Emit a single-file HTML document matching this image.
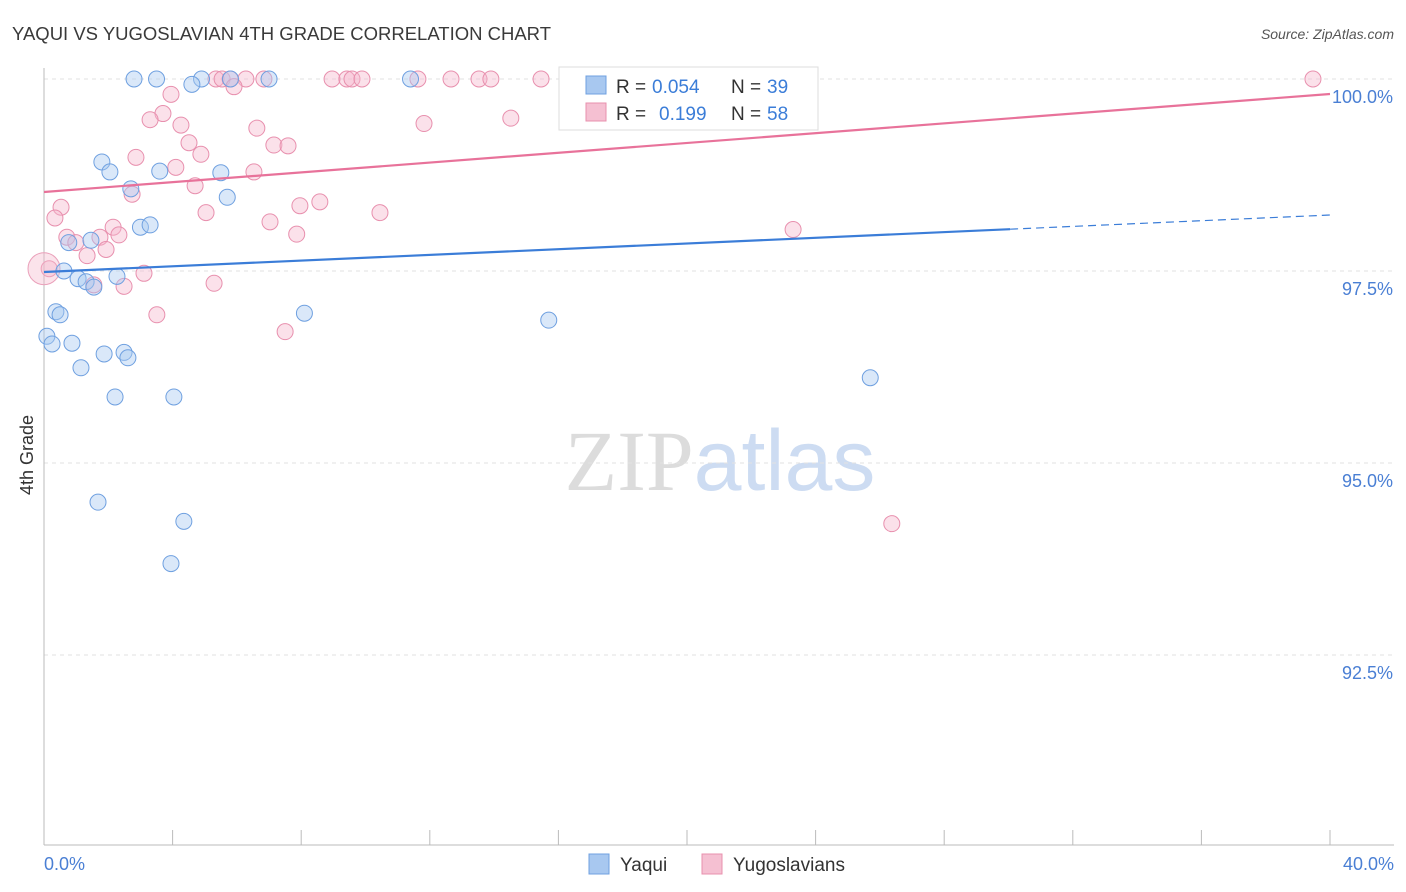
<!DOCTYPE html>
<html><head><meta charset="utf-8"><style>
body{margin:0;background:#fff;font-family:"Liberation Sans",sans-serif}
svg{display:block}
</style></head><body>
<svg id="chart" width="1406" height="892" xmlns="http://www.w3.org/2000/svg" font-family="Liberation Sans, sans-serif">
<text x="12" y="40" font-size="18.5" fill="#3a3a3a">YAQUI VS YUGOSLAVIAN 4TH GRADE CORRELATION CHART</text>
<text x="1394" y="39" font-size="14" fill="#555" text-anchor="end" font-style="italic">Source: ZipAtlas.com</text>
<text x="720" y="490" font-size="86" text-anchor="middle"><tspan fill="#dcdcdc" font-family="Liberation Serif, serif">ZIP</tspan><tspan fill="#cddcf2">atlas</tspan></text>
<text transform="translate(33,455) rotate(-90)" font-size="18" fill="#333" text-anchor="middle">4th Grade</text>
<g id="grid"></g><g id="marks"></g>
<g>
<rect x="559" y="67" width="259" height="63" fill="#fff" stroke="#ddd"/>
<rect x="586" y="76" width="20" height="18" fill="#a8c8f0" stroke="#6fa0e0"/>
<text x="616" y="93" font-size="19" fill="#333">R =</text>
<text x="652" y="93" font-size="19" fill="#3b7dd8">0.054</text>
<text x="731" y="93" font-size="19" fill="#333">N =</text>
<text x="767" y="93" font-size="19" fill="#3b7dd8">39</text>
<rect x="586" y="103" width="20" height="18" fill="#f5c0d2" stroke="#e890ae"/>
<text x="616" y="120" font-size="19" fill="#333">R =</text>
<text x="659" y="120" font-size="19" fill="#3b7dd8">0.199</text>
<text x="731" y="120" font-size="19" fill="#333">N =</text>
<text x="767" y="120" font-size="19" fill="#3b7dd8">58</text>
</g>
<g>
<rect x="589" y="854" width="20" height="20" fill="#a8c8f0" stroke="#6fa0e0"/>
<text x="620" y="871" font-size="19" fill="#333">Yaqui</text>
<rect x="702" y="854" width="20" height="20" fill="#f5c0d2" stroke="#e890ae"/>
<text x="733" y="871" font-size="19" fill="#333">Yugoslavians</text>
</g>
</svg>
<script>
const yTicks=[92.5,95.0,97.5,100.0];
const xTickLabels=["0.0%","40.0%"];
const blueX=[2.8,3.5,4.9,5.8,7.0,11.4,4.6,1.8,2.05,3.6,5.5,2.7,5.7,3.0,3.3,0.77,1.46,0.62,1.06,1.31,1.55,2.27,0.37,0.5,8.1,15.7,0.09,0.25,0.87,1.87,2.49,2.61,1.15,2.21,4.04,25.7,1.68,4.35,3.95];
const blueY=[100,100,100,100,100,100,99.93,98.92,98.79,98.8,98.78,98.57,98.46,98.07,98.1,97.87,97.9,97.5,97.4,97.36,97.29,97.43,96.97,96.93,96.95,96.86,96.65,96.55,96.56,96.42,96.44,96.37,96.24,95.86,95.86,96.11,94.49,94.24,93.69];
const pinkX=[5.35,5.54,5.79,6.28,6.84,8.96,9.42,9.58,9.89,11.63,12.66,13.53,13.9,15.46,20.09,20.59,39.47,5.91,3.95,3.7,3.3,4.26,14.52,11.82,6.62,4.51,7.15,7.59,4.88,2.86,4.1,6.53,2.74,4.7,0.53,0.34,5.04,7.96,8.58,10.45,7.03,2.15,2.33,0.71,1.74,7.86,23.3,0.99,1.93,1.34,0.16,3.11,2.49,5.29,1.55,3.51,7.5,26.37];
const pinkY=[100,100,100,100,100,100,100,100,100,100,100,100,100,100,100,100,100,99.9,99.8,99.55,99.47,99.4,99.49,99.42,99.36,99.17,99.14,99.13,99.02,98.98,98.85,98.79,98.5,98.61,98.33,98.19,98.26,98.35,98.4,98.26,98.14,98.07,97.97,97.94,97.94,97.98,98.04,97.87,97.78,97.7,97.53,97.47,97.3,97.34,97.32,96.93,96.71,94.21];
const blueLine=[97.487,98.229];const blueSolidEnd=30.05;
const pinkLine=[98.529,99.805];
const NS="http://www.w3.org/2000/svg";
const X=v=>44+v/40*1286, Y=v=>79+(100-v)/2.5*192;
function mk(t,a,p){const e=document.createElementNS(NS,t);for(const k in a)e.setAttribute(k,a[k]);p.appendChild(e);return e;}
const g=document.getElementById('grid'),m=document.getElementById('marks');
yTicks.forEach(t=>{const l=mk('line',{x1:44,x2:1394,y1:Y(t),y2:Y(t),stroke:'#e2e2e2','stroke-dasharray':'4,4'},g);


const tx=mk('text',{x:1393,y:Y(t)+24,'font-size':18,fill:'#4a7fd4','text-anchor':'end'},g);tx.textContent=t.toFixed(1)+'%';

});
mk('line',{x1:44,x2:44,y1:68,y2:845,stroke:'#bbb'},g);
mk('line',{x1:44,x2:1394,y1:845,y2:845,stroke:'#bbb'},g);
for(let i=0;i<=10;i++){const l=mk('line',{x1:X(i*4),x2:X(i*4),y1:830,y2:845,stroke:'#bbb'},g);

}
[[0,'start',44],[40,'end',1394]].forEach((d,i)=>{const t=mk('text',{x:d[2],y:870,'font-size':18,fill:'#4a7fd4','text-anchor':d[1]},g);t.textContent=xTickLabels[i];

});
function pts(xs,ys,fill,stroke,name){xs.forEach((x,i)=>{const c=mk('circle',{cx:X(x),cy:Y(ys[i]),r:8,fill:fill,'fill-opacity':0.42,stroke:stroke,'stroke-width':1},m);

});}
pts(pinkX,pinkY,'#f5b8cc','#e890ae','yugoslavian-point');
const big=mk('circle',{cx:X(0),cy:Y(97.53),r:16,fill:'#f5b8cc','fill-opacity':0.4,stroke:'#eaa0ba'},m);


pts(blueX,blueY,'#a8c8f0','#6fa0e0','yaqui-point');
const f=(l,x)=>l[0]+(l[1]-l[0])*x/40;
let a=mk('line',{x1:X(0),y1:Y(f(blueLine,0)),x2:X(blueSolidEnd),y2:Y(f(blueLine,blueSolidEnd)),stroke:'#3b7dd8','stroke-width':2.2},m);


a=mk('line',{x1:X(blueSolidEnd),y1:Y(f(blueLine,blueSolidEnd)),x2:X(40),y2:Y(f(blueLine,40)),stroke:'#3b7dd8','stroke-width':1.2,'stroke-dasharray':'8,5'},m);


a=mk('line',{x1:X(0),y1:Y(f(pinkLine,0)),x2:X(40),y2:Y(f(pinkLine,40)),stroke:'#e8729a','stroke-width':2.2},m);


</script>
</body></html>
